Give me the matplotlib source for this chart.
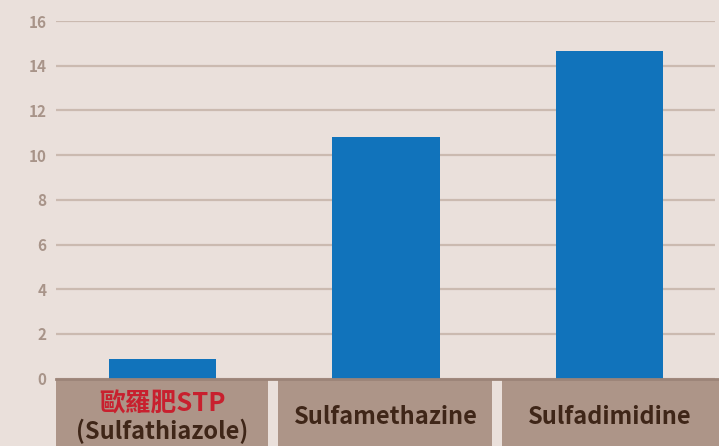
import matplotlib.pyplot as plt
from matplotlib.patches import Rectangle

plt.rcParams['font.family'] = ['Noto Sans CJK TC', 'DejaVu Sans']

categories = ["歐羅肥STP\n(Sulfathiazole)", "Sulfamethazine", "Sulfadimidine"]
values = [0.88, 10.82, 14.66]
yticks = [0, 2, 4, 6, 8, 10, 12, 14, 16]

bg = "#eae0db"
bar_color = "#1173bb"
grid_color = "#cbbab0"
box_color = "#ad9588"
text_dark = "#3f2618"
red = "#c8202e"

fig = plt.figure(figsize=(7.19, 4.46), dpi=100, facecolor=bg)
ax = fig.add_axes([56 / 719, 67.4 / 446, 659 / 719, 357.6 / 446])
ax.set_facecolor(bg)

x = list(range(len(categories)))
ax.bar(x, values, width=0.48, color=bar_color, zorder=3)

ax.set_xlim(-0.476, 2.472)
ax.set_ylim(0, 16)
ax.set_yticks(yticks)
ax.yaxis.grid(True, color=grid_color, linewidth=1.6, zorder=0)
ax.tick_params(axis='y', length=0, pad=7, labelsize=11, labelcolor="#a89489")
for lbl in ax.get_yticklabels():
    lbl.set_fontweight("bold")
ax.set_xticks([])
for s in ax.spines.values():
    s.set_visible(False)

# category boxes under the axis
trans = ax.get_xaxis_transform()
box_h = 70 / 357.6
for i, cat in enumerate(categories):
    left = max(i - 0.482, -0.476)
    right = i + 0.474 if i < 2 else i + 0.49
    ax.add_patch(Rectangle((left, -box_h), right - left, box_h, transform=trans,
                           facecolor=box_color, edgecolor="none", clip_on=False, zorder=4))
    if i == 0:
        ax.text(i, -25 / 357.6, "歐羅肥STP", transform=trans, ha="center", va="center",
                fontsize=18.5, fontweight="bold", color=red, zorder=5)
        ax.text(i, -53 / 357.6, "(Sulfathiazole)", transform=trans, ha="center", va="center",
                fontsize=17, fontweight="bold", color=text_dark, zorder=5)
    else:
        ax.text(i, -38 / 357.6, cat, transform=trans, ha="center", va="center",
                fontsize=17, fontweight="bold", color=text_dark, zorder=5)

ax.plot([-0.476, 2.49], [0, 0], transform=trans, color="#9c8478", linewidth=2,
        clip_on=False, zorder=6)

fig.savefig("out.png", dpi=100, facecolor=bg)
